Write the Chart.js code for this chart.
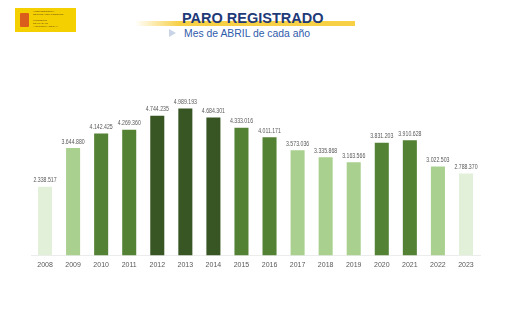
<!DOCTYPE html>
<html>
<head>
<meta charset="utf-8">
<script src="https://cdn.jsdelivr.net/npm/chart.js@4/dist/chart.umd.min.js"></script>
<style>
  html, body { margin: 0; padding: 0; background: #fff; }
  body { width: 511px; height: 310px; position: relative; overflow: hidden; font-family: "Liberation Sans", Arial, sans-serif; }
  #logo { position: absolute; left: 15px; top: 8px; width: 61px; height: 24px; background: #f5d000; }
  #logo .shield { position: absolute; left: 5px; top: 5px; width: 9px; height: 14px; background: #c8102e; opacity: .6; border-radius: 1px; }
  #logo .txt { position: absolute; left: 18px; top: 3px; font-size: 2.4px; line-height: 2.9px; color: #6a4a10; white-space: nowrap; }
  #band { position: absolute; left: 135px; top: 21px; width: 220px; height: 5px;
          background: linear-gradient(to right, rgba(247,208,70,0) 0%, #f7d046 20%, #f7d046 100%); }
  #title { position: absolute; left: 182px; top: 10px; font-weight: bold; font-size: 14.5px; color: #1f3a78; white-space: nowrap; }
  #chev { position: absolute; left: 169px; top: 29px; width: 0; height: 0; border-top: 4px solid transparent; border-bottom: 4px solid transparent; border-left: 7px solid #c9d5e6; }
  #sub { position: absolute; left: 184px; top: 28px; font-size: 10.4px; color: #2f5cac; white-space: nowrap; }
  #wrap { position: absolute; left: 0; top: 80px; width: 511px; height: 195px; }
</style>
</head>
<body>
<div id="logo"><div class="shield"></div><div class="txt">VICEPRESIDENCIA<br>SEGUNDA DEL GOBIERNO<br><br>MINISTERIO<br>DE TRABAJO<br>Y ECONOMÍA SOCIAL</div></div>
<div id="band"></div>
<div id="title">PARO REGISTRADO</div>
<div id="chev"></div>
<div id="sub">Mes de ABRIL de cada año</div>
<div id="wrap"><canvas id="chart"></canvas></div>
<script>
// Paro registrado, mes de abril de cada año
const years = ['2008', '2009', '2010', '2011', '2012', '2013', '2014', '2015',
               '2016', '2017', '2018', '2019', '2020', '2021', '2022', '2023'];
const paro = [2338517, 3644880, 4142425, 4269360, 4744235, 4989193, 4684301, 4333016,
              4011171, 3573036, 3335868, 3163566, 3831203, 3910628, 3022503, 2788370];
// tono de cada barra: 0 muy claro, 1 claro, 2 medio, 3 oscuro
const tones = [0, 1, 2, 2, 3, 3, 3, 2, 2, 1, 1, 1, 2, 2, 1, 0];
const PALETTE = ['#e2efd9', '#a9d08e', '#548235', '#375623'];

const fmt = (v) => v.toString().replace(/\B(?=(\d{3})+(?!\d))/g, '.');

// etiquetas de valor encima de cada barra (letra algo estrecha, como en el original)
const valueLabels = {
    id: 'valueLabels',
    afterDatasetsDraw(chart) {
        const ctx = chart.ctx;
        const meta = chart.getDatasetMeta(0);
        meta.data.forEach((bar, i) => {
            ctx.save();
            ctx.translate(bar.x, bar.y - 3);
            ctx.scale(0.8, 1);
            ctx.font = '6.5px "Liberation Sans", Arial, sans-serif';
            ctx.fillStyle = '#595959';
            ctx.textAlign = 'center';
            ctx.textBaseline = 'bottom';
            ctx.fillText(fmt(paro[i]), 0, 0);
            ctx.restore();
        });
    },
};

new Chart(document.getElementById('chart'), {
    type: 'bar',
    data: {
        labels: years,
        datasets: [{
            data: paro,
            backgroundColor: tones.map((t) => PALETTE[t]),
            categoryPercentage: 1,
            barPercentage: 0.5,
        }],
    },
    options: {
        responsive: true,
        maintainAspectRatio: false,
        animation: false,
        layout: { padding: { left: 31, right: 31, top: 9, bottom: 1 } },
        plugins: { legend: { display: false }, tooltip: { enabled: false } },
        scales: {
            x: {
                grid: { display: false, drawTicks: false },
                border: { display: true, color: '#ececec', width: 1 },
                ticks: { color: '#595959', font: { size: 7, family: '"Liberation Sans", Arial' }, padding: 5, maxRotation: 0 },
            },
            y: { display: false, min: 0, max: 5650000 },
        },
    },
    plugins: [valueLabels],
});
</script>
</body>
</html>
